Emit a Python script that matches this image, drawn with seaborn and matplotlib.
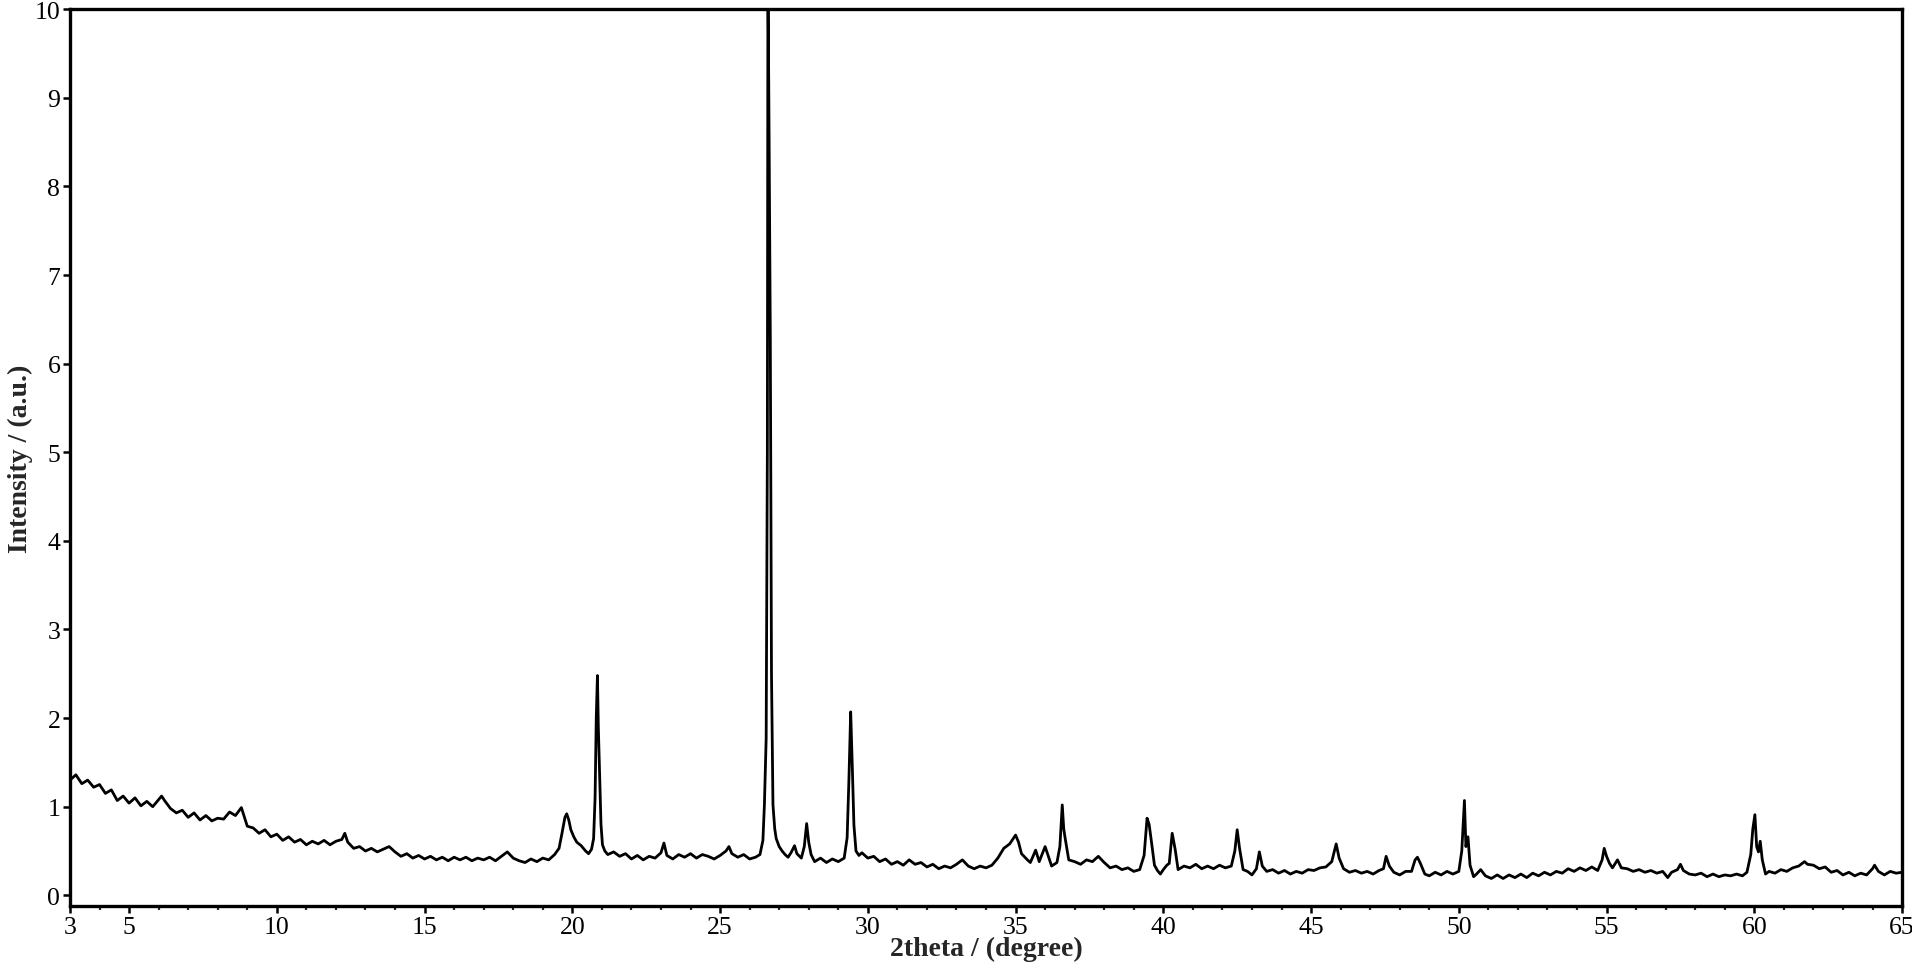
import matplotlib
matplotlib.use("Agg")
import matplotlib.pyplot as plt
from matplotlib.ticker import MultipleLocator, FixedLocator
import seaborn as sns
import pandas as pd

two_theta = [
    3.0, 3.2, 3.4, 3.6, 3.8, 4.0, 4.2, 4.4, 4.6, 4.8, 5.0, 5.2, 5.4, 5.6, 5.8, 6.0, 6.1, 6.2, 6.4, 6.6,
    6.8, 7.0, 7.2, 7.4, 7.6, 7.8, 8.0, 8.2, 8.4, 8.6, 8.8, 9.0, 9.2, 9.4, 9.6, 9.8, 10.0, 10.2, 10.4, 10.6,
    10.8, 11.0, 11.2, 11.4, 11.6, 11.8, 12.0, 12.2, 12.3, 12.4, 12.6, 12.8, 13.0, 13.2, 13.4, 13.6, 13.8, 14.0, 14.2, 14.4,
    14.6, 14.8, 15.0, 15.2, 15.4, 15.6, 15.8, 16.0, 16.2, 16.4, 16.6, 16.8, 17.0, 17.2, 17.4, 17.6, 17.8, 18.0, 18.2, 18.4,
    18.6, 18.8, 19.0, 19.2, 19.4,
    19.55, 19.65, 19.75, 19.81, 19.88, 19.95, 20.05, 20.15, 20.3, 20.45, 20.55, 20.65, 20.72, 20.77, 20.81, 20.85,
    20.88, 20.92, 20.97, 21.02, 21.1, 21.2,
    21.4, 21.6, 21.8, 22.0, 22.2, 22.4, 22.6, 22.8, 23.0, 23.1, 23.2, 23.4, 23.6, 23.8, 24.0, 24.2, 24.4, 24.6,
    24.8, 25.0, 25.2, 25.3, 25.4, 25.6, 25.8, 26.0, 26.2, 26.35,
    26.45, 26.5, 26.56, 26.6, 26.62, 26.66, 26.7, 26.74, 26.79, 26.85, 26.9, 27.0, 27.1, 27.2, 27.3, 27.4, 27.52, 27.6,
    27.75, 27.85, 27.93, 28.0, 28.08, 28.2, 28.4, 28.6, 28.8, 29.0, 29.2, 29.3, 29.36, 29.42, 29.47, 29.53, 29.6, 29.7,
    29.8, 30.0, 30.2,
    30.4, 30.6, 30.8, 31.0, 31.2, 31.4, 31.6, 31.8, 32.0, 32.2, 32.4, 32.6, 32.8, 33.0, 33.2, 33.4, 33.6, 33.8,
    34.0, 34.2, 34.4, 34.6, 34.8, 34.9, 35.0, 35.1, 35.2, 35.4, 35.5, 35.68, 35.8, 36.0, 36.1, 36.22, 36.4, 36.5,
    36.58, 36.63, 36.68, 36.8, 37.0, 37.2, 37.4, 37.6, 37.8, 38.0, 38.2, 38.4, 38.6, 38.8, 39.0, 39.2, 39.35, 39.45,
    39.52, 39.6, 39.7, 39.8, 39.9, 40.0, 40.12, 40.2, 40.3, 40.4, 40.5, 40.7, 40.9, 41.1, 41.3, 41.5, 41.7, 41.9,
    42.1, 42.3, 42.42, 42.5, 42.58, 42.7, 42.85, 43.0, 43.15, 43.25, 43.35, 43.5, 43.7, 43.9, 44.1, 44.3, 44.5, 44.7,
    44.9, 45.1, 45.3, 45.5, 45.7, 45.85, 45.95, 46.1, 46.3, 46.5, 46.7, 46.9, 47.1, 47.3, 47.45, 47.54, 47.65, 47.8,
    48.0, 48.2, 48.4, 48.52, 48.6, 48.7, 48.85, 49.0, 49.2, 49.4, 49.6, 49.8, 50.0, 50.1, 50.19, 50.24, 50.31, 50.38,
    50.5, 50.6, 50.74, 50.9, 51.1, 51.3, 51.5, 51.7, 51.9, 52.1, 52.3, 52.5, 52.7, 52.9, 53.1, 53.3, 53.5, 53.7,
    53.9, 54.1, 54.3, 54.5, 54.7, 54.85, 54.92, 55.0, 55.1, 55.2, 55.37, 55.5, 55.7, 55.9, 56.1, 56.3, 56.5, 56.7,
    56.9, 57.07, 57.2, 57.4, 57.5, 57.6, 57.8, 58.0, 58.2, 58.4, 58.6, 58.8, 59.0, 59.2, 59.4, 59.6, 59.75, 59.88,
    59.95, 60.02, 60.08, 60.14, 60.2, 60.27, 60.38, 60.5, 60.7, 60.9, 61.1, 61.3, 61.5, 61.7, 61.8, 62.0, 62.2, 62.4,
    62.6, 62.8, 63.0, 63.2, 63.4, 63.6, 63.8, 64.0, 64.07, 64.2, 64.4, 64.6, 64.8, 65.0,
]
intensity = [
    1.30, 1.36, 1.26, 1.30, 1.22, 1.25, 1.15, 1.19, 1.07, 1.12, 1.04, 1.10, 1.01, 1.06, 1.00, 1.08, 1.12, 1.07, 0.98, 0.93,
    0.96, 0.88, 0.93, 0.85, 0.90, 0.84, 0.87, 0.86, 0.94, 0.90, 0.99, 0.78, 0.76, 0.70, 0.74, 0.66, 0.69, 0.62, 0.66, 0.60,
    0.63, 0.57, 0.61, 0.58, 0.62, 0.57, 0.61, 0.63, 0.70, 0.60, 0.53, 0.55, 0.50, 0.53, 0.49, 0.52, 0.55, 0.49, 0.44, 0.47,
    0.42, 0.45, 0.41, 0.44, 0.40, 0.43, 0.39, 0.43, 0.40, 0.43, 0.39, 0.42, 0.40, 0.43, 0.39, 0.44, 0.49, 0.42, 0.39, 0.37,
    0.41, 0.38, 0.42, 0.40, 0.46,
    0.53, 0.70, 0.88, 0.92, 0.85, 0.74, 0.66, 0.60, 0.56, 0.50, 0.47, 0.52, 0.64, 1.10, 2.00, 2.48,
    1.90, 1.40, 0.80, 0.57, 0.50, 0.46,
    0.49, 0.44, 0.47, 0.41, 0.45, 0.40, 0.44, 0.42, 0.48, 0.59, 0.45, 0.41, 0.46, 0.43, 0.47, 0.42, 0.46, 0.44,
    0.41, 0.45, 0.50, 0.55, 0.47, 0.43, 0.46, 0.41, 0.43, 0.46,
    0.62, 1.02, 1.77, 5.00, 10.50, 8.50, 6.30, 2.50, 1.02, 0.75, 0.64, 0.55, 0.50, 0.46, 0.43, 0.48, 0.56, 0.47,
    0.42, 0.55, 0.81, 0.60, 0.46, 0.38, 0.42, 0.37, 0.41, 0.38, 0.42, 0.65, 1.30, 2.07, 1.51, 0.79, 0.50, 0.45,
    0.48, 0.42, 0.44,
    0.38, 0.41, 0.35, 0.38, 0.34, 0.40, 0.35, 0.37, 0.32, 0.35, 0.30, 0.33, 0.31, 0.35, 0.40, 0.33, 0.30, 0.33,
    0.31, 0.34, 0.42, 0.53, 0.58, 0.63, 0.68, 0.60, 0.47, 0.40, 0.37, 0.51, 0.38, 0.55, 0.45, 0.33, 0.37, 0.55,
    1.02, 0.75, 0.64, 0.40, 0.38, 0.35, 0.40, 0.38, 0.44, 0.37, 0.31, 0.33, 0.29, 0.31, 0.27, 0.29, 0.45, 0.87,
    0.80, 0.60, 0.34, 0.28, 0.24, 0.29, 0.34, 0.36, 0.70, 0.52, 0.29, 0.33, 0.31, 0.35, 0.30, 0.33, 0.30, 0.34,
    0.31, 0.33, 0.50, 0.74, 0.53, 0.29, 0.27, 0.23, 0.30, 0.49, 0.33, 0.27, 0.29, 0.25, 0.28, 0.24, 0.27, 0.25,
    0.29, 0.28, 0.31, 0.32, 0.38, 0.58, 0.42, 0.30, 0.26, 0.28, 0.25, 0.27, 0.24, 0.28, 0.30, 0.44, 0.33, 0.26,
    0.23, 0.27, 0.27, 0.40, 0.43, 0.36, 0.24, 0.22, 0.26, 0.23, 0.27, 0.24, 0.27, 0.50, 1.07, 0.55, 0.66, 0.34,
    0.21, 0.24, 0.29, 0.22, 0.19, 0.23, 0.19, 0.23, 0.20, 0.24, 0.20, 0.25, 0.22, 0.26, 0.23, 0.27, 0.25, 0.30,
    0.27, 0.31, 0.28, 0.32, 0.28, 0.40, 0.53, 0.44, 0.36, 0.31, 0.40, 0.31, 0.30, 0.27, 0.29, 0.26, 0.28, 0.25,
    0.27, 0.20, 0.26, 0.29, 0.35, 0.28, 0.24, 0.23, 0.25, 0.21, 0.24, 0.21, 0.23, 0.22, 0.24, 0.22, 0.26, 0.46,
    0.75, 0.91, 0.55, 0.49, 0.61, 0.40, 0.24, 0.27, 0.25, 0.29, 0.27, 0.31, 0.33, 0.38, 0.35, 0.34, 0.30, 0.32,
    0.26, 0.28, 0.23, 0.26, 0.22, 0.25, 0.23, 0.30, 0.34, 0.27, 0.23, 0.27, 0.25, 0.26,
]
x_major_ticks = [3, 5, 10, 15, 20, 25, 30, 35, 40, 45, 50, 55, 60, 65]
y_ticks = [0, 1, 2, 3, 4, 5, 6, 7, 8, 9, 10]
x_label = "2theta / (degree)"
y_label = "Intensity / (a.u.)"

df = pd.DataFrame({"two_theta": two_theta, "intensity": intensity})

sns.set_style("ticks")
plt.rcParams["font.family"] = ["Liberation Serif", "DejaVu Serif"]

fig = plt.figure(figsize=(19.12, 9.70), dpi=100)
ax = fig.add_axes([0.0366, 0.065, 0.9582, 0.9245])

sns.lineplot(data=df, x="two_theta", y="intensity", ax=ax, color="black",
             linewidth=2.0, estimator=None, sort=False)

ax.set_xlim(3, 65)
ax.set_ylim(-0.12, 10)
ax.xaxis.set_major_locator(FixedLocator(x_major_ticks))
ax.xaxis.set_minor_locator(MultipleLocator(1))
ax.yaxis.set_major_locator(FixedLocator(y_ticks))
ax.set_xticklabels([str(t) for t in x_major_ticks])
ax.set_yticklabels([str(t) for t in y_ticks])

for s in ax.spines.values():
    s.set_visible(True)
    s.set_linewidth(2.4)
    s.set_color("black")

ax.tick_params(axis="both", which="major", direction="out", length=5, width=1.8,
               labelsize=18.5, pad=2, colors="black")
ax.tick_params(axis="x", which="minor", direction="out", length=3, width=1.6)
ax.tick_params(axis="y", which="minor", left=False)

ax.set_xlabel(x_label, fontsize=20, fontweight="bold", labelpad=-1)
ax.set_ylabel(y_label, fontsize=20, fontweight="bold", labelpad=1)
ax.grid(False)

fig.savefig("out.png", dpi=100)
